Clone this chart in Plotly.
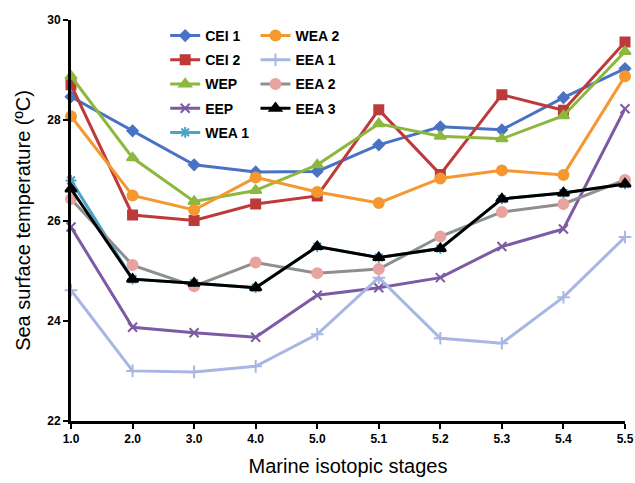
import plotly.graph_objects as go

stages = ["1.0", "2.0", "3.0", "4.0", "5.0", "5.1", "5.2", "5.3", "5.4", "5.5"]
y_ticks = [22, 24, 26, 28, 30]

cei1 = [28.47, 27.79, 27.11, 26.97, 26.98, 27.51, 27.87, 27.81, 28.45, 29.03]
cei2 = [28.71, 26.11, 26.00, 26.33, 26.49, 28.21, 26.92, 28.51, 28.20, 29.56]
wep = [28.88, 27.25, 26.38, 26.60, 27.11, 27.93, 27.68, 27.63, 28.09, 29.37]
eep = [25.87, 23.87, 23.76, 23.67, 24.51, 24.66, 24.86, 25.48, 25.83, 28.23]
wea1 = [26.80, 24.83, 24.75, 24.66, 25.48, 25.26, 25.44, 26.43, 26.55, 26.73]
wea2 = [28.08, 26.50, 26.21, 26.86, 26.57, 26.35, 26.84, 27.00, 26.91, 28.88]
eea1 = [24.61, 23.00, 22.98, 23.09, 23.73, 24.86, 23.65, 23.55, 24.47, 25.67]
eea2 = [26.43, 25.11, 24.69, 25.16, 24.95, 25.03, 25.68, 26.17, 26.33, 26.81]
eea3 = [26.63, 24.83, 24.75, 24.66, 25.48, 25.26, 25.44, 26.43, 26.55, 26.73]

FONT = "Arial, Liberation Sans, sans-serif"
x = list(range(len(stages)))

series = [
    ("CEI 1", cei1, "#4a72c4", "#4a72c4", "diamond", 8, "legend"),
    ("CEI 2", cei2, "#be3a3a", "#be3a3a", "square", 9, "legend"),
    ("WEP", wep, "#8cb83e", "#8cb83e", "triangle-up", 10, "legend"),
    ("EEP", eep, "#7d5aa4", "#7d5aa4", "x-thin-open", 9, "legend"),
    ("WEA 1", wea1, "#4ba3c8", "#4ba3c8", "asterisk-open", 9, "legend"),
    ("WEA 2", wea2, "#f4982f", "#f4982f", "circle", 10, "legend2"),
    ("EEA 1", eea1, "#a8b6e4", "#a8b6e4", "cross-thin-open", 9, "legend2"),
    ("EEA 2", eea2, "#8f8f8f", "#e8a39e", "circle", 10, "legend2"),
    ("EEA 3", eea3, "#000000", "#000000", "triangle-up", 10, "legend2"),
]

fig = go.Figure()
for name, vals, lc, mc, sym, sz, lg in series:
    fig.add_trace(go.Scatter(
        x=x, y=vals, name=name, mode="lines+markers",
        line=dict(color=lc, width=3),
        marker=dict(symbol=sym, size=sz, color=mc,
                    line=dict(color=mc, width=2)),
        legend=lg, legendgroup=name, cliponaxis=False,
    ))

legend_font = dict(family=FONT, size=14, color="#000000", weight="bold")
fig.update_layout(
    width=635, height=483,
    margin=dict(l=71, r=10, t=20, b=62),
    paper_bgcolor="white", plot_bgcolor="white",
    showlegend=True,
    legend=dict(x=0.17, y=1.0, xanchor="left", yanchor="top",
                font=legend_font, bgcolor="rgba(0,0,0,0)", tracegroupgap=3),
    legend2=dict(x=0.333, y=1.0, xanchor="left", yanchor="top",
                 font=legend_font, bgcolor="rgba(0,0,0,0)", tracegroupgap=3),
    xaxis=dict(
        tickmode="array", tickvals=x, ticktext=stages,
        range=[0, len(stages) - 1], showgrid=False, zeroline=False,
        showline=True, linecolor="black", linewidth=3, automargin=False,
        ticks="outside", ticklen=5, tickwidth=2, tickcolor="black",
        tickfont=dict(family=FONT, size=12, color="#000000", weight="bold"),
        title=dict(text="Marine isotopic stages", standoff=14,
                   font=dict(family=FONT, size=20, color="#000000")),
    ),
    yaxis=dict(
        range=[22, 30], tickvals=y_ticks, showgrid=False, zeroline=False,
        showline=True, linecolor="black", linewidth=3, automargin=False,
        ticks="outside", ticklen=5, tickwidth=2, tickcolor="black",
        tickfont=dict(family=FONT, size=12, color="#000000", weight="bold"),
        title=dict(text="Sea surface temperature (ºC)", standoff=12,
                   font=dict(family=FONT, size=20, color="#000000")),
    ),
)

fig.write_html("out.html", config={"displayModeBar": False},
               post_script="document.body.style.margin='0';")
